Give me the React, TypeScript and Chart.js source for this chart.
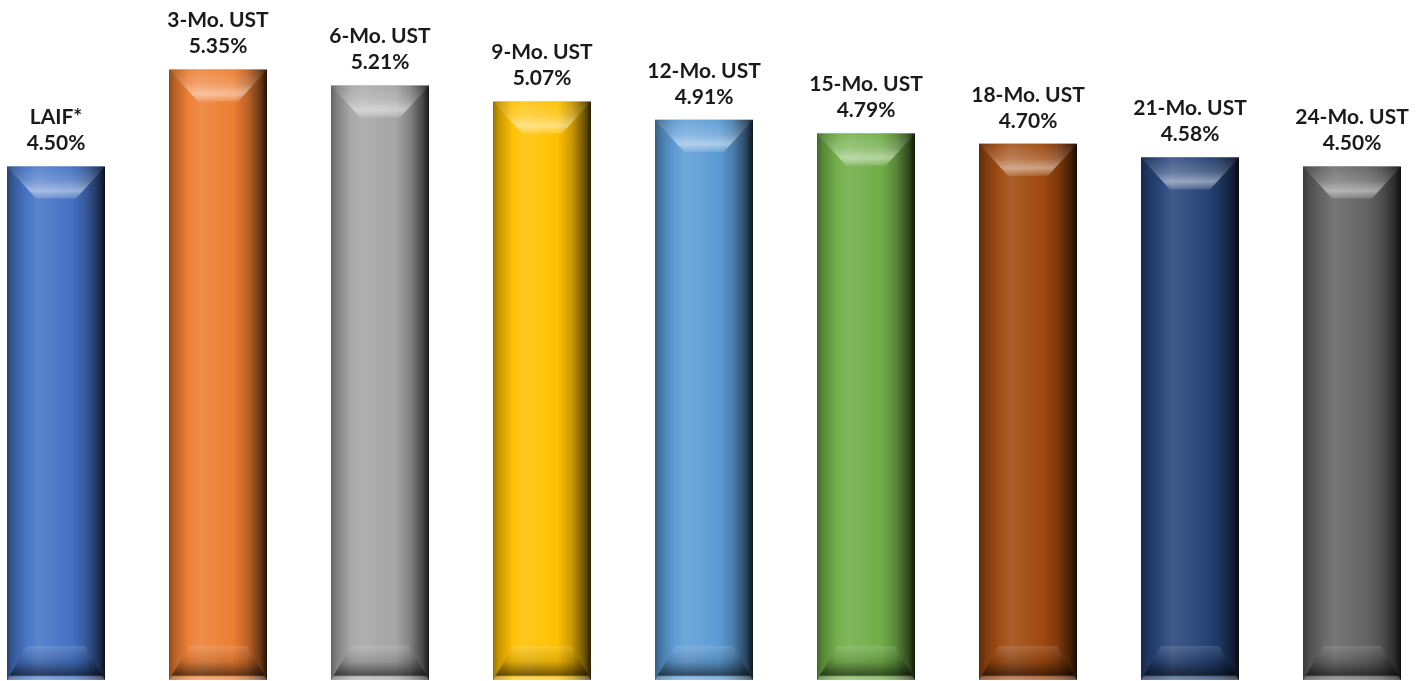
import React, { useEffect, useRef } from 'react';
import { Chart, registerables } from 'chart.js';

Chart.register(...registerables);

const categories = ['LAIF*', '3-Mo. UST', '6-Mo. UST', '9-Mo. UST', '12-Mo. UST', '15-Mo. UST', '18-Mo. UST', '21-Mo. UST', '24-Mo. UST'];
const yields = [4.5, 5.35, 5.21, 5.07, 4.91, 4.79, 4.7, 4.58, 4.5];
const barColors = ['#4472C4', '#ED7D31', '#A5A5A5', '#FFC000', '#5B9BD5', '#70AD47', '#9E480E', '#264478', '#636363'];
const yMax = 5.96;

function parseHex(hex: string) {
  const h = hex.replace('#', '');
  return [parseInt(h.slice(0, 2), 16), parseInt(h.slice(2, 4), 16), parseInt(h.slice(4, 6), 16)];
}
function mix(hex: string, target: number[], t: number) {
  const c = parseHex(hex);
  const r = c.map((v, i) => Math.round(v + (target[i] - v) * t));
  return `rgb(${r[0]},${r[1]},${r[2]})`;
}
const BLACK = [0, 0, 0];
const WHITE = [255, 255, 255];

const bevelPlugin = {
  id: 'bevelBars',
  afterDatasetsDraw(chart: any) {
    const ctx = chart.ctx as CanvasRenderingContext2D;
    const meta = chart.getDatasetMeta(0);
    meta.data.forEach((el: any, i: number) => {
      const { x, y, base, width } = el.getProps(['x', 'y', 'base', 'width'], true);
      const col = barColors[i];
      const left = x - width / 2;
      const right = x + width / 2;
      const top = y;
      const bottom = base;
      ctx.save();
      // body horizontal gradient
      const hg = ctx.createLinearGradient(left, 0, right, 0);
      hg.addColorStop(0, mix(col, BLACK, 0.4));
      hg.addColorStop(0.06, mix(col, BLACK, 0.22));
      hg.addColorStop(0.2, mix(col, WHITE, 0.02));
      hg.addColorStop(0.32, mix(col, WHITE, 0.12));
      hg.addColorStop(0.5, mix(col, WHITE, 0.06));
      hg.addColorStop(0.66, col);
      hg.addColorStop(0.8, mix(col, BLACK, 0.2));
      hg.addColorStop(0.93, mix(col, BLACK, 0.55));
      hg.addColorStop(1, mix(col, BLACK, 0.85));
      ctx.fillStyle = hg;
      ctx.fillRect(left, top, width, bottom - top);

      // top bevel
      const tdx = 29, tdy = 32;
      ctx.beginPath();
      ctx.moveTo(left, top);
      ctx.lineTo(right, top);
      ctx.lineTo(right - tdx, top + tdy);
      ctx.lineTo(left + tdx, top + tdy);
      ctx.closePath();
      const tg = ctx.createLinearGradient(0, top, 0, top + tdy);
      tg.addColorStop(0, 'rgba(255,255,255,0.04)');
      tg.addColorStop(0.45, 'rgba(255,255,255,0.2)');
      tg.addColorStop(0.76, 'rgba(255,255,255,0.48)');
      tg.addColorStop(1, 'rgba(255,255,255,0.14)');
      ctx.fillStyle = tg;
      ctx.fill();

      // bottom bevel
      const bdx = 20, bdy = 34;
      ctx.beginPath();
      ctx.moveTo(left, bottom);
      ctx.lineTo(right, bottom);
      ctx.lineTo(right - bdx, bottom - bdy);
      ctx.lineTo(left + bdx, bottom - bdy);
      ctx.closePath();
      const bg = ctx.createLinearGradient(0, bottom - bdy, 0, bottom);
      bg.addColorStop(0, 'rgba(255,255,255,0.12)');
      bg.addColorStop(0.45, 'rgba(0,0,0,0.12)');
      bg.addColorStop(0.86, 'rgba(0,0,0,0.55)');
      bg.addColorStop(0.91, 'rgba(255,255,255,0.22)');
      bg.addColorStop(1, 'rgba(255,255,255,0.35)');
      ctx.fillStyle = bg;
      ctx.fill();
      ctx.restore();
    });
  },
};

const labelPlugin = {
  id: 'barLabels',
  afterDraw(chart: any) {
    const ctx = chart.ctx as CanvasRenderingContext2D;
    const meta = chart.getDatasetMeta(0);
    ctx.save();
    ctx.fillStyle = '#1a1a1a';
    ctx.textAlign = 'center';
    ctx.textBaseline = 'middle';
    ctx.font = 'bold 21px Lato, "Open Sans", sans-serif';
    meta.data.forEach((el: any, i: number) => {
      const { x, y } = el.getProps(['x', 'y'], true);
      ctx.fillText(categories[i], x, y - 49);
      ctx.fillText(yields[i].toFixed(2) + '%', x, y - 23);
    });
    ctx.restore();
  },
};

export default function App() {
  const ref = useRef<HTMLCanvasElement>(null);
  useEffect(() => {
    document.body.style.margin = '0';
    const chart = new Chart(ref.current!, {
      type: 'bar',
      data: {
        labels: categories,
        datasets: [
          {
            data: yields,
            backgroundColor: barColors,
            borderWidth: 0,
            categoryPercentage: 1,
            barPercentage: 0.605,
          },
        ],
      },
      options: {
        animation: false,
        responsive: false,
        maintainAspectRatio: false,
        layout: { padding: { top: 0, bottom: 1, left: 0, right: 0 } },
        plugins: { legend: { display: false }, tooltip: { enabled: false } },
        scales: {
          x: { display: false, offset: true },
          y: { display: false, min: 0, max: yMax },
        },
      },
      plugins: [bevelPlugin, labelPlugin],
    });
    return () => chart.destroy();
  }, []);
  return (
    <div style={{ position: 'relative', width: 1427, height: 681, overflow: 'hidden', background: '#fff' }}>
      <canvas ref={ref} width={1458} height={681} style={{ position: 'absolute', left: -25, top: 0, width: 1458, height: 681 }} />
    </div>
  );
}
